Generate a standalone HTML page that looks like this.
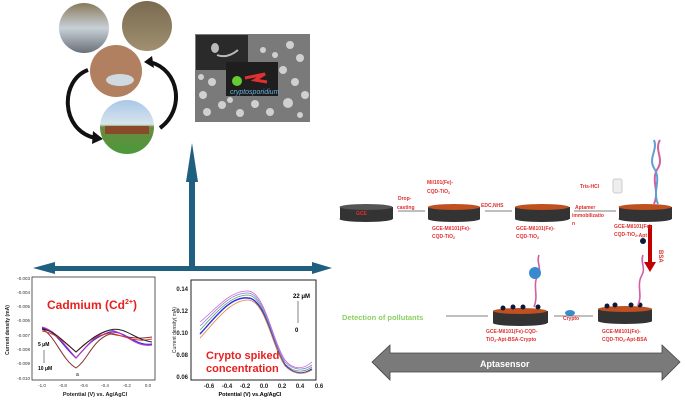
<!DOCTYPE html>
<html><head><meta charset="utf-8"><style>
body{margin:0;background:#fff;width:685px;height:404px;overflow:hidden}
svg{font-family:"Liberation Sans",sans-serif}
</style></head><body>
<svg width="685" height="404" viewBox="0 0 685 404" xmlns="http://www.w3.org/2000/svg">
<defs>
<linearGradient id="w1" x1="0" y1="0" x2="0" y2="1"><stop offset="0" stop-color="#8a7a5a"/><stop offset=".5" stop-color="#c8d0d8"/><stop offset="1" stop-color="#6a7078"/></linearGradient>
<linearGradient id="w2" x1="0" y1="0" x2="0" y2="1"><stop offset="0" stop-color="#7a6a50"/><stop offset="1" stop-color="#a09070"/></linearGradient>
<linearGradient id="w4" x1="0" y1="0" x2="0" y2="1"><stop offset="0" stop-color="#a8c8e8"/><stop offset=".45" stop-color="#d8e4ec"/><stop offset=".5" stop-color="#6a8a40"/><stop offset="1" stop-color="#4a9a3a"/></linearGradient>
</defs>
<path d="M88 70 C60 80,60 130,95 138" fill="none" stroke="#111" stroke-width="4"/>
<polygon points="93,131 103,139 92,144" fill="#111"/>
<path d="M160 128 C185 110,180 70,150 62" fill="none" stroke="#111" stroke-width="4"/>
<polygon points="152,56 144,62 154,68" fill="#111"/>
<circle cx="84" cy="28" r="25" fill="url(#w1)"/>
<circle cx="147" cy="26" r="25" fill="url(#w2)"/>
<circle cx="116" cy="71" r="26" fill="#b08060"/>
<ellipse cx="120" cy="80" rx="14" ry="6" fill="#d0d8e0"/>
<circle cx="127" cy="127" r="27" fill="url(#w4)"/>
<rect x="105" y="126" width="44" height="8" fill="#8a4a2a"/>
<!-- micrograph -->
<rect x="195" y="34" width="115" height="88" fill="#7a7a7a"/>
<g fill="#d0d0d0">
<circle cx="290" cy="45" r="4"/><circle cx="300" cy="58" r="4"/><circle cx="283" cy="70" r="4"/><circle cx="295" cy="82" r="4"/><circle cx="305" cy="95" r="4"/><circle cx="288" cy="103" r="5"/><circle cx="270" cy="112" r="4"/><circle cx="255" cy="104" r="4"/><circle cx="240" cy="113" r="4"/><circle cx="222" cy="105" r="4"/><circle cx="207" cy="112" r="4"/><circle cx="203" cy="95" r="4"/><circle cx="212" cy="82" r="4"/><circle cx="201" cy="77" r="3"/><circle cx="263" cy="50" r="3"/><circle cx="275" cy="55" r="3"/><circle cx="300" cy="115" r="3"/><circle cx="230" cy="100" r="3"/>
</g>
<rect x="196" y="35" width="52" height="35" fill="#2a2a2a"/>
<ellipse cx="215" cy="48" rx="4" ry="5" fill="#bbb"/>
<path d="M217 55 C225 58,232 55,238 50" stroke="#bbb" stroke-width="2" fill="none"/>
<rect x="226" y="62" width="52" height="34" fill="#1e1e1e"/>
<circle cx="237" cy="81" r="5" fill="#6c3"/>
<path d="M245 78 l20 -4 l-10 6 l12 2" stroke="#e03030" stroke-width="3" fill="none"/>
<text x="230" y="94" font-size="7" fill="#6ab0e0" font-style="italic">cryptosporidium</text>
<polygon points="192,143 198,182 195,182 195,266 189,266 189,182 186,182" fill="#1f5f80"/>
<rect x="50" y="266" width="264" height="5" fill="#1f5f80"/>
<polygon points="33,268 55,262 55,274" fill="#1f5f80"/>
<polygon points="332,268 312,262 312,274" fill="#1f5f80"/>
<rect x="32" y="277" width="123" height="103" fill="#fff" stroke="#333" stroke-width="0.8"/>
<g font-size="4.5" fill="#333" text-anchor="end">
<text x="30" y="280">-0.003</text><text x="30" y="294">-0.004</text><text x="30" y="308">-0.005</text><text x="30" y="322">-0.006</text><text x="30" y="337">-0.007</text><text x="30" y="351">-0.008</text><text x="30" y="365">-0.009</text><text x="30" y="380">-0.010</text>
</g>
<g font-size="4.5" fill="#333" text-anchor="middle"><text x="42" y="387">-1.0</text><text x="63" y="387">-0.8</text><text x="84" y="387">-0.6</text><text x="105" y="387">-0.4</text><text x="127" y="387">-0.2</text><text x="148" y="387">0.0</text></g>
<text x="95" y="396" font-size="5.5" font-weight="bold" text-anchor="middle" fill="#222">Potential (V) vs. Ag/AgCl</text>
<text x="9" y="330" font-size="5" font-weight="bold" fill="#222" transform="rotate(-90 9 330)" text-anchor="middle">Current density (mA)</text>
<text x="47" y="309" font-size="12" font-weight="bold" fill="#e82020">Cadmium (Cd<tspan font-size="7" dy="-5">2+</tspan><tspan dy="5">)</tspan></text>
<text x="38" y="346" font-size="5" font-weight="bold">5 μM</text>
<text x="38" y="370" font-size="5" font-weight="bold">10 μM</text>
<line x1="44" y1="350" x2="44" y2="363" stroke="#333" stroke-width=".6"/>
<path d="M42 329 C55 335,62 360,76 368 C88 360,92 340,110 334 C125 336,135 340,152 337" fill="none" stroke="#8a3030" stroke-width="1"/>
<path d="M42 328 C55 330,62 345,76 358 C88 345,92 338,110 332 C125 330,135 347,152 344" fill="none" stroke="#3030e0" stroke-width="1.2"/>
<path d="M42 327 C55 330,62 342,76 358 C88 345,95 334,110 330 C125 332,135 348,152 345" fill="none" stroke="#c030c0" stroke-width="1"/>
<path d="M42 331 C55 333,62 340,76 352 C88 340,95 336,110 333 C125 336,135 343,152 339" fill="none" stroke="#e03030" stroke-width="1"/>
<path d="M42 329 C55 331,62 340,76 352 C88 342,95 334,110 330 C125 326,135 340,152 342" fill="none" stroke="#222" stroke-width="1"/>
<text x="76" y="376" font-size="5">a</text>
<rect x="191" y="280" width="125" height="100" fill="#fff" stroke="#222" stroke-width="1"/>
<g font-size="6" fill="#222" text-anchor="end" font-weight="bold"><text x="188" y="291">0.14</text><text x="188" y="313">0.12</text><text x="188" y="335">0.10</text><text x="188" y="357">0.08</text><text x="188" y="379">0.06</text></g>
<g font-size="6" fill="#222" text-anchor="middle" font-weight="bold"><text x="209" y="388">-0.6</text><text x="227" y="388">-0.4</text><text x="245" y="388">-0.2</text><text x="264" y="388">0.0</text><text x="282" y="388">0.2</text><text x="300" y="388">0.4</text><text x="319" y="388">0.6</text></g>
<text x="250" y="396" font-size="5.5" font-weight="bold" text-anchor="middle">Potential (V) vs.Ag/AgCl</text>
<text x="176" y="330" font-size="5" fill="#222" transform="rotate(-90 176 330)" text-anchor="middle">Current density( mA)</text>
<g fill="none" stroke-width="0.8">
<path d="M200 322 C215 310,230 290,248 291 C265 292,272 340,285 360 C295 372,305 368,312 362" stroke="#d060d0"/>
<path d="M200 326 C215 312,230 292,248 293 C265 294,272 342,285 362 C295 372,305 370,312 365" stroke="#8080e0"/>
<path d="M200 330 C215 314,230 295,248 295 C265 296,272 344,285 364 C295 374,305 372,312 367" stroke="#60a060"/>
<path d="M200 334 C215 318,230 296,248 298 C265 298,272 346,285 365 C295 376,305 374,312 369" stroke="#3030e0" stroke-width="1.4"/>
<path d="M200 338 C215 322,230 300,248 300 C265 300,272 346,285 366 C295 376,305 374,312 370" stroke="#e08040"/>
</g>
<text x="293" y="298" font-size="6" font-weight="bold">22 μM</text>
<line x1="298" y1="301" x2="298" y2="323" stroke="#333" stroke-width=".6"/>
<text x="295" y="332" font-size="6" font-weight="bold">0</text>
<text x="206" y="359" font-size="11" font-weight="bold" fill="#e82020">Crypto spiked</text>
<text x="206" y="372" font-size="11" font-weight="bold" fill="#e82020">concentration</text>
<g>
<rect x="340" y="207" width="53" height="12" fill="#333"/><ellipse cx="366" cy="219" rx="26.5" ry="3" fill="#333"/><ellipse cx="366" cy="207" rx="26.5" ry="3" fill="#555"/>
<text x="356" y="215" font-size="5" fill="#e03030" font-weight="bold">GCE</text>
<rect x="428" y="207" width="52" height="12" fill="#333"/><ellipse cx="454" cy="219" rx="26" ry="3" fill="#333"/><ellipse cx="454" cy="207" rx="26" ry="3" fill="#c05020"/>
<rect x="515" y="207" width="55" height="12" fill="#333"/><ellipse cx="542" cy="219" rx="27" ry="3" fill="#333"/><ellipse cx="542" cy="207" rx="27" ry="3" fill="#c05020"/>
<rect x="619" y="207" width="53" height="12" fill="#333"/><ellipse cx="645" cy="219" rx="26.5" ry="3" fill="#333"/><ellipse cx="645" cy="207" rx="26.5" ry="3" fill="#c05020"/>
<rect x="598" y="309" width="54" height="12" fill="#333"/><ellipse cx="625" cy="321" rx="27" ry="3" fill="#333"/><ellipse cx="625" cy="309" rx="27" ry="3" fill="#c05020"/>
<rect x="493" y="311" width="55" height="12" fill="#333"/><ellipse cx="520" cy="323" rx="27" ry="3" fill="#333"/><ellipse cx="520" cy="311" rx="27" ry="3" fill="#c05020"/>
</g>
<g fill="#0a1a3a"><circle cx="607" cy="306" r="2.5"/><circle cx="615" cy="305" r="2.5"/><circle cx="631" cy="305" r="2.5"/><circle cx="640" cy="305" r="2.5"/>
<circle cx="503" cy="308" r="2.5"/><circle cx="513" cy="307" r="2.5"/><circle cx="523" cy="307" r="2.5"/><circle cx="538" cy="307" r="2.5"/><circle cx="643" cy="241" r="3"/></g>
<path d="M654 204 C660 190,650 180,658 168 C664 158,654 150,660 140" stroke="#d060a0" stroke-width="2" fill="none"/>
<path d="M658 204 C652 190,662 180,654 168 C648 158,658 150,654 140" stroke="#60a0d0" stroke-width="2" fill="none"/>
<path d="M638 305 C643 295,636 285,642 275 C646 268,640 262,643 255" stroke="#d060a0" stroke-width="1.6" fill="none"/>
<path d="M534 307 C539 295,532 285,538 275 C542 268,536 262,539 255" stroke="#d060a0" stroke-width="1.6" fill="none"/>
<circle cx="535" cy="273" r="6" fill="#3a8ad0"/>
<ellipse cx="570" cy="313" rx="5" ry="3" fill="#3a8ad0"/>
<rect x="613" y="179" width="9" height="14" rx="2" fill="#eee" stroke="#ccc"/>
<g stroke="#555" stroke-width=".8"><line x1="398" y1="211" x2="425" y2="211"/><line x1="485" y1="211" x2="512" y2="211"/><line x1="574" y1="211" x2="616" y2="211"/><line x1="593" y1="316" x2="554" y2="316"/><line x1="488" y1="316" x2="446" y2="316"/></g>
<rect x="648" y="225" width="4" height="38" fill="#c00000"/><polygon points="644,262 656,262 650,272" fill="#c00000"/>
<g font-size="5" font-weight="bold" fill="#e03030">
<text x="398" y="200">Drop-</text><text x="397" y="209">casting</text>
<text x="427" y="184">Mil101(Fe)-</text><text x="427" y="193">CQD-TiO<tspan font-size="3.5" dy="1">2</tspan></text>
<text x="481" y="207">EDC,NHS</text>
<text x="575" y="209">Aptamer</text><text x="572" y="217">immobilizatio</text><text x="572" y="225">n</text>
<text x="580" y="188">Tris-HCl</text>
<text x="432" y="230">GCE-Mil101(Fe)-</text><text x="432" y="238">CQD-TiO<tspan font-size="3.5" dy="1">2</tspan></text>
<text x="516" y="230">GCE-Mil101(Fe)-</text><text x="516" y="238">CQD-TiO<tspan font-size="3.5" dy="1">2</tspan></text>
<text x="614" y="228">GCE-Mil101(Fe)-</text><text x="614" y="236">CQD-TiO<tspan font-size="3.5" dy="1">2</tspan>-Apt</text>
<text x="563" y="320">Crypto</text>
<text x="486" y="333">GCE-Mil101(Fe)-CQD-</text><text x="486" y="341">TiO<tspan font-size="3.5" dy="1">2</tspan><tspan dy="-1">-Apt-BSA-Crypto</tspan></text>
<text x="602" y="333">GCE-Mil101(Fe)-</text><text x="602" y="341">CQD-TiO<tspan font-size="3.5" dy="1">2</tspan><tspan dy="-1">-Apt-BSA</tspan></text>
<text x="659" y="250" font-size="6" transform="rotate(90 659 250)">BSA</text>
</g>
<text x="342" y="320" font-size="7.5" font-weight="bold" fill="#8cd060">Detection of pollutants</text>
<polygon points="372,362 390,345 390,353 662,353 662,345 680,362 662,380 662,372 390,372 390,380" fill="#7a7a7a" stroke="#444" stroke-width=".8"/>
<text x="480" y="367" font-size="9" font-weight="bold" fill="#fff">Aptasensor</text>
</svg>
</body></html>
